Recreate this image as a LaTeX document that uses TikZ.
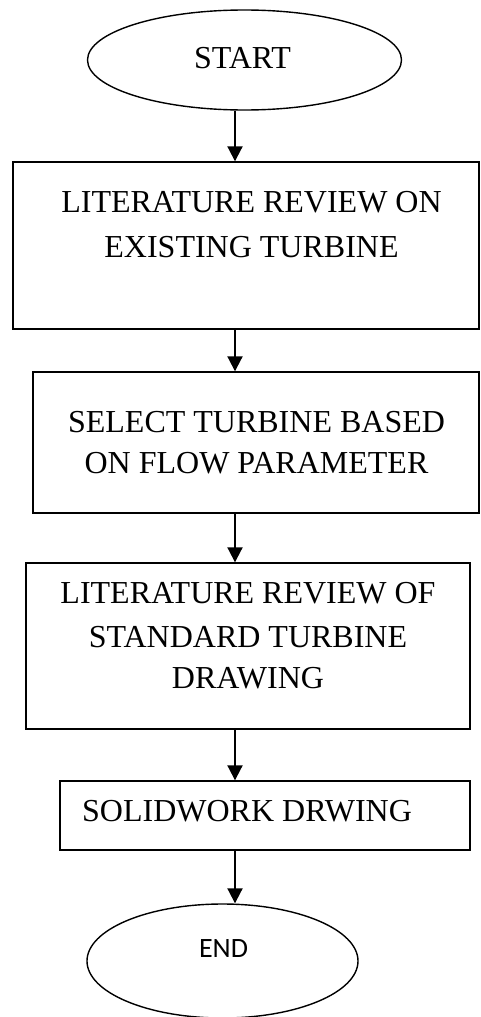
\documentclass[tikz,border=0pt]{standalone}
\usepackage{fontspec}
\setmainfont{Liberation Serif}
\newfontfamily\endfont{Carlito}
\usetikzlibrary{shapes.geometric,arrows.meta}

\begin{document}
\begin{tikzpicture}[x=1pt,y=-1pt,
  terminal/.style={draw,ellipse,line width=1.4pt,inner sep=0pt},
  stepbox/.style={draw,rectangle,line width=1.4pt,inner sep=0pt},
  label/.style={font=\fontsize{32}{32}\selectfont,anchor=base,inner sep=0pt},
  flow/.style={line width=2pt,-{Triangle[length=15pt,width=15pt]}}]
  \useasboundingbox (0,0) rectangle (481,1017);

  % shapes
  \node[terminal,minimum width=314pt,minimum height=100pt] (start) at (244.5,60) {};
  \node[stepbox,minimum width=466pt,minimum height=167pt] (b1) at (246,245.5) {};
  \node[stepbox,minimum width=446pt,minimum height=141pt] (b2) at (256,442.5) {};
  \node[stepbox,minimum width=444pt,minimum height=166pt] (b3) at (248,646) {};
  \node[stepbox,minimum width=410pt,minimum height=69pt] (b4) at (265,815.5) {};
  \node[terminal,minimum width=271pt,minimum height=114pt] (end) at (222.5,961) {};

  % texts
  \node[label] (tstart) at (242.5,68) {START};
  \node[label] (t1a) at (251.5,212) {LITERATURE REVIEW ON};
  \node[label] (t1b) at (251.5,257) {EXISTING TURBINE};
  \node[label] (t2a) at (256.5,432) {SELECT TURBINE BASED};
  \node[label] (t2b) at (256.5,473) {ON FLOW PARAMETER};
  \node[label] (t3a) at (248,603) {LITERATURE REVIEW OF};
  \node[label] (t3b) at (248,647) {STANDARD TURBINE};
  \node[label] (t3c) at (248,688) {DRAWING};
  \node[label,anchor=base west] (t4) at (82,821) {SOLIDWORK DRWING};
  \node[anchor=base,inner sep=0pt,font=\endfont\fontsize{28}{28}\selectfont] (tend) at (223.5,957) {END};

  % connectors along the common axis
  \coordinate (axis) at (235,0);
  \draw[flow] (axis |- start.south) -- (axis |- b1.north);
  \draw[flow] (axis |- b1.south) -- (axis |- b2.north);
  \draw[flow] (axis |- b2.south) -- (axis |- b3.north);
  \draw[flow] (axis |- b3.south) -- (axis |- b4.north);
  \draw[flow] (axis |- b4.south) -- (axis |- end.north);
\end{tikzpicture}
\end{document}
